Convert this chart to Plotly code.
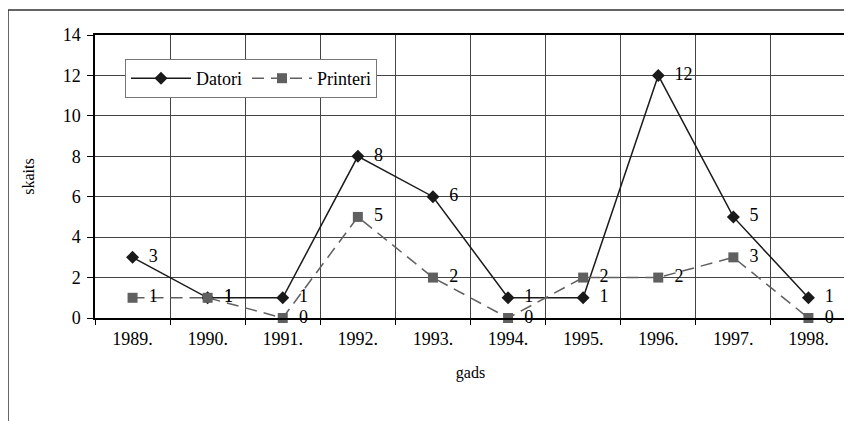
import plotly.graph_objects as go

years = ["1989.", "1990.", "1991.", "1992.", "1993.", "1994.", "1995.", "1996.", "1997.", "1998."]
datori = [3, 1, 1, 8, 6, 1, 1, 12, 5, 1]
printeri = [1, 1, 0, 5, 2, 0, 2, 2, 3, 0]

# page body has an 8px default margin; work in figure coordinates
OFF = 8
W, H = 852 - OFF, 421 - OFF
L, R, T = 95 - OFF, 6, 35 - OFF
ph = 283
B = H - T - ph
pw = W - L - R

FAM = "Times New Roman"
def F(size=18):
    return dict(family=FAM, size=size, color="#000")

fig = go.Figure()
fig.add_trace(go.Scatter(
    x=years, y=datori, name="Datori", mode="lines+markers+text",
    line=dict(color="#1a1a1a", width=1.5),
    marker=dict(symbol="diamond", size=10, color="#1a1a1a"),
    text=["  " + str(v) for v in datori], textposition="middle right",
    textfont=F(), cliponaxis=False,
))
fig.add_trace(go.Scatter(
    x=years, y=printeri, name="Printeri", mode="lines+markers+text",
    line=dict(color="#606060", width=1.5, dash="12px,7px"),
    marker=dict(symbol="square", size=10, color="#606060"),
    text=["  " + str(v) for v in printeri], textposition="middle right",
    textfont=F(), cliponaxis=False,
))

def px2paper_x(x):
    return (x - OFF - L) / pw

def px2paper_y(y):
    return 1 - (y - OFF - T) / ph

fig.update_layout(
    template="none",
    width=W, height=H,
    margin=dict(l=L, r=R, t=T, b=B),
    paper_bgcolor="white", plot_bgcolor="white",
    font=F(),
    showlegend=True,
    legend=dict(
        orientation="h", x=px2paper_x(125), y=px2paper_y(59),
        xanchor="left", yanchor="top",
        bgcolor="white", bordercolor="#777", borderwidth=1,
        font=F(), itemwidth=60, tracegroupgap=0,
    ),
    xaxis=dict(
        type="category", tickson="boundaries", ticks="outside", ticklen=5,
        tickcolor="#000", showgrid=True, gridcolor="#444", gridwidth=1,
        showline=True, linecolor="#000", linewidth=1.5, mirror=True,
        tickfont=F(), range=[-0.5, 9.5], ticklabelstandoff=4,
        title=dict(text="gads", font=F(16), standoff=18),
    ),
    yaxis=dict(
        range=[0, 14], dtick=2, ticks="outside", ticklen=6, tickcolor="#000",
        showgrid=True, gridcolor="#444", gridwidth=1,
        showline=True, linecolor="#000", linewidth=1.5, mirror=True,
        tickfont=F(), zeroline=False, ticklabelstandoff=3,
        title=dict(text="skaits", font=F(16), standoff=24),
    ),
)

# outer chart frame (top and left edges visible)
x0 = px2paper_x(8)
y0 = px2paper_y(10)
fig.add_shape(type="path",
              path=f"M {x0} {px2paper_y(440)} L {x0} {y0} L {px2paper_x(870)} {y0}",
              xref="paper", yref="paper", line=dict(color="#333", width=1.5))

fig.write_html("out.html")
